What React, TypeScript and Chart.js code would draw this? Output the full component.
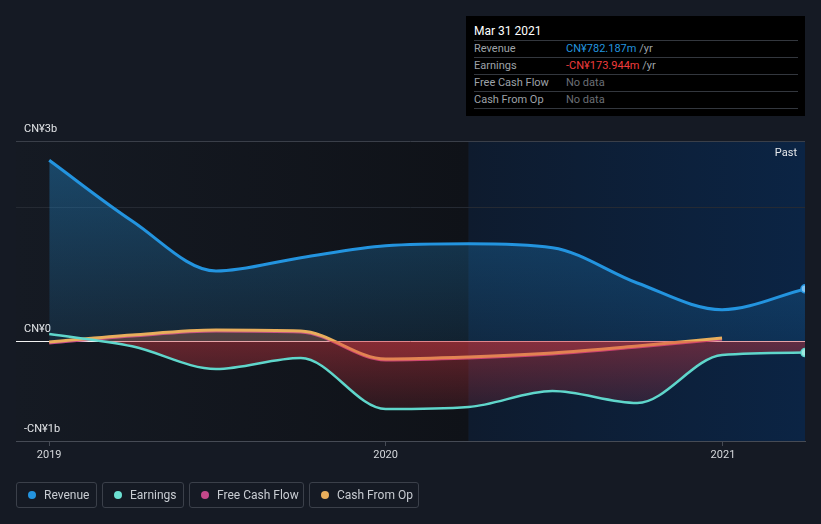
import React, { useEffect, useRef } from 'react';
import { Chart, registerables } from 'chart.js';
Chart.register(...registerables);

// ---- data (values in CN¥ billions, x in days since 2019-01-01) ----
const DAYS = [0, 90, 181, 273, 365, 455, 546, 638, 730, 820];
const REVENUE = [2.71, 1.8, 1.05, 1.25, 1.43, 1.46, 1.4, 0.87, 0.47, 0.782];
const EARNINGS = [0.105, -0.08, -0.42, -0.255, -1.02, -0.99, -0.75, -0.93, -0.21, -0.174];
const CASH_DAYS = [0, 90, 181, 273, 365, 455, 546, 638, 730];
const CASH_FROM_OP = [-0.015, 0.09, 0.165, 0.15, -0.27, -0.24, -0.18, -0.075, 0.045];
const FREE_CASH_FLOW = [-0.03, 0.075, 0.15, 0.135, -0.285, -0.255, -0.195, -0.09, 0.03];

const YEAR_TICKS = [0, 365, 731];
const YEAR_LABELS = ['2019', '2020', '2021'];
const Y_TICKS = [3, 2, 0, -1.5];
const Y_LABELS = ['CN¥3b', '', 'CN¥0', '-CN¥1b'];
const PAST_START = 455; // Mar 31 2020
const X_MIN = -36;
const X_MAX = 820;

const LEGEND = [
  { label: 'Revenue', color: '#2394df', width: 81 },
  { label: 'Earnings', color: '#6ce0d2', width: 82 },
  { label: 'Free Cash Flow', color: '#c4488a', width: 115 },
  { label: 'Cash From Op', color: '#e8ae5c', width: 110 },
];

const TOOLTIP_ROWS = [
  { label: 'Revenue', value: 'CN¥782.187m', color: '#2394df', unit: ' /yr' },
  { label: 'Earnings', value: '-CN¥173.944m', color: '#f03c3c', unit: ' /yr' },
  { label: 'Free Cash Flow', value: 'No data', color: '#6b6f76', unit: '' },
  { label: 'Cash From Op', value: 'No data', color: '#6b6f76', unit: '' },
];

const FONT = 'Roboto, "Noto Sans", sans-serif';

const toPts = (xs: number[], ys: number[]) => xs.map((x, i) => ({ x, y: ys[i] }));

const bgPlugin = {
  id: 'bgPlugin',
  beforeDraw(chart: any) {
    const { ctx, chartArea, scales } = chart;
    if (!chartArea) return;
    ctx.save();
    ctx.fillStyle = '#151a24';
    ctx.fillRect(0, 0, chart.width, chart.height);
    const px = scales.x.getPixelForValue(PAST_START);
    const g1 = ctx.createLinearGradient(chartArea.left, 0, px, 0);
    g1.addColorStop(0, '#151a23');
    g1.addColorStop(1, '#0f1218');
    ctx.fillStyle = g1;
    ctx.fillRect(chartArea.left, chartArea.top, px - chartArea.left, chartArea.bottom - chartArea.top);
    const g2 = ctx.createLinearGradient(px, 0, chartArea.right, 0);
    g2.addColorStop(0, '#0e1b2e');
    g2.addColorStop(1, '#0b2444');
    ctx.fillStyle = g2;
    ctx.fillRect(px, chartArea.top, chartArea.right - px, chartArea.bottom - chartArea.top);
    ctx.fillStyle = '#e6e8eb';
    ctx.font = '11px ' + FONT;
    ctx.textAlign = 'right';
    ctx.textBaseline = 'middle';
    ctx.fillText('Past', chartArea.right - 8, chartArea.top + 12);
    ctx.restore();
  },
};

function vGrad(ctx: any, stops: [number, string][]) {
  const chart = ctx.chart;
  const area = chart.chartArea;
  if (!area) return 'rgba(0,0,0,0)';
  const y = chart.scales.y;
  const g = chart.ctx.createLinearGradient(0, area.top, 0, area.bottom);
  stops.forEach(([v, c]) => {
    const p = (y.getPixelForValue(v) - area.top) / (area.bottom - area.top);
    g.addColorStop(Math.min(1, Math.max(0, p)), c);
  });
  return g;
}

export default function App() {
  const canvasRef = useRef<HTMLCanvasElement | null>(null);

  useEffect(() => {
    document.body.style.margin = '0';
    const canvas = canvasRef.current;
    if (!canvas) return;
    const lastIdx = DAYS.length - 1;
    const chart = new Chart(canvas, {
      type: 'line',
      data: {
        datasets: [
          {
            label: 'Earnings',
            data: toPts(DAYS, EARNINGS),
            borderColor: '#5fd6cb',
            borderWidth: 2.5,
            cubicInterpolationMode: 'monotone',
            fill: {
              target: 'origin',
              above: 'rgba(0,0,0,0)',
              below: (ctx: any) =>
                vGrad(ctx, [
                  [0, 'rgba(215,55,65,0.42)'],
                  [-1.0, 'rgba(215,55,65,0.14)'],
                  [-1.5, 'rgba(215,55,65,0.08)'],
                ]),
            } as any,
            pointRadius: (c: any) => (c.dataIndex === lastIdx ? 4 : 0),
            pointBackgroundColor: '#9ee9e1',
            pointBorderColor: '#5fd6cb',
            pointBorderWidth: 1.5,
            order: 0,
            clip: 0,
          } as any,
          {
            label: 'Cash From Op',
            data: toPts(CASH_DAYS, CASH_FROM_OP),
            borderColor: '#e8ae5c',
            borderWidth: 3,
            cubicInterpolationMode: 'monotone',
            fill: { target: 'origin', above: 'rgba(232,174,92,0.12)', below: 'rgba(232,120,92,0.06)' } as any,
            pointRadius: 0,
            order: 1,
            clip: 0,
          } as any,
          {
            label: 'Free Cash Flow',
            data: toPts(CASH_DAYS, FREE_CASH_FLOW),
            borderColor: '#c4488a',
            borderWidth: 3,
            cubicInterpolationMode: 'monotone',
            fill: { target: 'origin', above: 'rgba(200,80,90,0.22)', below: 'rgba(210,60,80,0.25)' } as any,
            pointRadius: 0,
            order: 2,
            clip: 0,
          } as any,
          {
            label: 'Revenue',
            data: toPts(DAYS, REVENUE),
            borderColor: '#2394df',
            borderWidth: 3,
            cubicInterpolationMode: 'monotone',
            fill: {
              target: 'origin',
              above: (ctx: any) =>
                vGrad(ctx, [
                  [3, 'rgba(35,148,223,0.40)'],
                  [0, 'rgba(35,148,223,0.12)'],
                ]),
            } as any,
            pointRadius: (c: any) => (c.dataIndex === lastIdx ? 4 : 0),
            pointBackgroundColor: '#7fc3f2',
            pointBorderColor: '#2394df',
            pointBorderWidth: 1.5,
            order: 3,
            clip: 0,
          } as any,
        ],
      },
      options: {
        animation: false,
        responsive: false,
        events: [],
        layout: { padding: { left: 16, right: 16, top: 141, bottom: 0 } },
        plugins: {
          legend: { display: false },
          tooltip: { enabled: false },
        },
        scales: {
          x: {
            type: 'linear',
            min: X_MIN,
            max: X_MAX,
            afterBuildTicks: (s: any) => {
              s.ticks = YEAR_TICKS.map((v) => ({ value: v }));
            },
            afterFit: (s: any) => {
              s.height = 83;
            },
            ticks: {
              autoSkip: false,
              maxRotation: 0,
              color: '#d5d8dc',
              font: { family: FONT, size: 11 },
              padding: 3,
              callback: (v: any) => {
                const i = YEAR_TICKS.indexOf(Number(v));
                return i >= 0 ? YEAR_LABELS[i] : '';
              },
            },
            grid: {
              drawOnChartArea: false,
              drawTicks: true,
              tickLength: 5,
              tickColor: '#464b55',
            },
            border: { display: true, color: '#464b55', width: 1 },
          },
          y: {
            type: 'linear',
            min: -1.5,
            max: 3,
            position: 'left',
            afterBuildTicks: (s: any) => {
              s.ticks = Y_TICKS.map((v) => ({ value: v }));
            },
            afterFit: (s: any) => {
              s.width = 0;
            },
            ticks: {
              mirror: true,
              padding: 8,
              labelOffset: -12,
              color: '#e3e5e8',
              font: { family: FONT, size: 11 },
              callback: (v: any) => {
                const i = Y_TICKS.indexOf(Number(v));
                return i >= 0 ? Y_LABELS[i] : '';
              },
            },
            grid: {
              drawTicks: false,
              color: (c: any) => {
                const v = c.tick ? c.tick.value : null;
                if (v === 0) return '#f2f2f2';
                if (v === 3) return '#3a3f49';
                if (v === 2) return '#252a33';
                return 'rgba(0,0,0,0)';
              },
              lineWidth: 1,
            },
            border: { display: false },
          },
        },
      } as any,
      plugins: [bgPlugin],
    });
    return () => chart.destroy();
  }, []);

  return (
    <div
      style={{
        position: 'fixed',
        left: 0,
        top: 0,
        width: 821,
        height: 524,
        background: '#151a24',
        fontFamily: FONT,
        overflow: 'hidden',
      }}
    >
      <canvas ref={canvasRef} width={821} height={524} style={{ position: 'absolute', left: 0, top: 0 }} />
      <div
        style={{
          position: 'absolute',
          left: 466,
          top: 16,
          width: 339,
          height: 100,
          background: '#000000',
        }}
      >
        <div
          style={{
            position: 'absolute',
            left: 8,
            top: 7,
            height: 16,
            lineHeight: '16px',
            fontSize: 12,
            color: '#ffffff',
          }}
        >
          Mar 31 2021
        </div>
        {TOOLTIP_ROWS.map((r, i) => (
          <div
            key={r.label}
            style={{
              position: 'absolute',
              left: 8,
              top: 24 + i * 17,
              width: 324,
              height: 16,
              lineHeight: '16px',
              borderTop: '1px solid #33373e',
              borderBottom: i === TOOLTIP_ROWS.length - 1 ? '1px solid #33373e' : 'none',
              fontSize: 11,
            }}
          >
            <span style={{ position: 'absolute', left: 0, top: 0, color: '#9ea2a8' }}>{r.label}</span>
            <span style={{ position: 'absolute', left: 92, top: 0, whiteSpace: 'nowrap' }}>
              <span style={{ color: r.color }}>{r.value}</span>
              <span style={{ color: '#9ea2a8' }}>{r.unit}</span>
            </span>
          </div>
        ))}
      </div>
      <div style={{ position: 'absolute', left: 16, top: 482, display: 'flex', gap: 5 }}>
        {LEGEND.map((l) => (
          <div
            key={l.label}
            style={{
              width: l.width,
              height: 26,
              boxSizing: 'border-box',
              border: '1px solid #3b404a',
              borderRadius: 3,
              display: 'flex',
              alignItems: 'center',
              paddingLeft: 11,
              fontSize: 12,
              color: '#c8ccd2',
              whiteSpace: 'nowrap',
            }}
          >
            <span
              style={{
                display: 'inline-block',
                width: 8,
                height: 8,
                borderRadius: 4,
                background: l.color,
                marginRight: 8,
                flexShrink: 0,
              }}
            />
            {l.label}
          </div>
        ))}
      </div>
    </div>
  );
}
